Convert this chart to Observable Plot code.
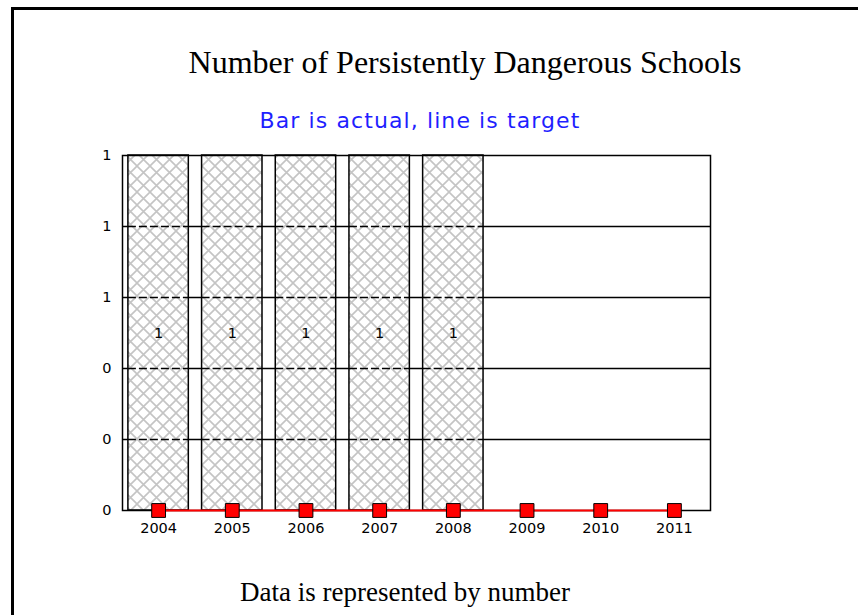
<!DOCTYPE html>
<html><head><meta charset="utf-8">
<script src="https://cdn.jsdelivr.net/npm/d3@7"></script>
<script src="https://cdn.jsdelivr.net/npm/@observablehq/plot@0.6"></script>
<style>
html,body{margin:0;padding:0;background:#fff;}
#page{position:relative;width:858px;height:615px;overflow:hidden;background:#fff;}
#border{position:absolute;left:11px;top:7px;right:-10px;bottom:-10px;border-left:3px solid #000;border-top:3px solid #000;}
.t{position:absolute;white-space:nowrap;transform:translate(-50%,-50%);}
#title{left:465px;top:62px;font:32px "Liberation Serif","Times New Roman",serif;color:#000;}
#subtitle{left:420px;top:120px;font:22px "DejaVu Sans",sans-serif;color:#1f1fff;letter-spacing:1.1px;}
#caption{left:405px;top:592px;font:27px "Liberation Serif","Times New Roman",serif;color:#000;}
#chart{position:absolute;left:20px;top:140px;}
#chart svg text{font-size:14.5px;font-family:"DejaVu Sans",sans-serif;fill:#000;}
</style></head><body>
<div id="page">
<div id="border"></div>
<div class="t" id="title">Number of Persistently Dangerous Schools</div>
<div class="t" id="subtitle">Bar is actual, line is target</div>
<div class="t" id="caption">Data is represented by number</div>
<div id="chart"></div>
</div>
<script>
const years = ["2004", "2005", "2006", "2007", "2008", "2009", "2010", "2011"];
const actualYears = ["2004", "2005", "2006", "2007", "2008"];
const actual = [1, 1, 1, 1, 1];
const target = [0, 0, 0, 0, 0, 0, 0, 0];
const yTicks = [0, 0.2, 0.4, 0.6, 0.8, 1];
const gridLines = [0.2, 0.4, 0.6, 0.8];

const bars = actualYears.map((year, i) => ({year, value: actual[i]}));
const targets = years.map((year, i) => ({year, value: target[i]}));
const dashes = actualYears.flatMap(year => gridLines.map(v => ({year, v})));

const plot = Plot.plot({
  width: 700, height: 415,
  marginLeft: 102, marginRight: 10, marginTop: 15, marginBottom: 45,
  style: {background: "transparent", fontFamily: "'DejaVu Sans', sans-serif", fontSize: "14.5px", color: "#000"},
  x: {type: "band", domain: years, paddingInner: 0.18, paddingOuter: 0.08, round: false, label: null, tickSize: 0, tickPadding: 12},
  y: {domain: [0, 1], ticks: yTicks, tickFormat: d => d3.format(".0f")(d), label: null, tickSize: 0, tickPadding: 11},
  marks: [
    Plot.ruleY(gridLines, {stroke: "#000", strokeWidth: 1.5}),
    Plot.barY(bars, {x: "year", y: "value", fill: "url(#hatch)", stroke: "#000", strokeWidth: 1.5}),
    Plot.tickY(dashes, {x: "year", y: "v", stroke: "#000", strokeWidth: 1.5, strokeDasharray: "8,3"}),
    Plot.text(bars, {x: "year", y: d => d.value / 2, text: d => String(d.value), fontSize: 15}),
    Plot.frame({stroke: "#000", strokeWidth: 1.5}),
    Plot.line(targets, {x: "year", y: "value", stroke: "red", strokeWidth: 2}),
    Plot.dot(targets, {x: "year", y: "value", symbol: "square", r: 7.8, fill: "red", stroke: "#000", strokeWidth: 1})
  ]
});

const defs = d3.select(plot).insert("defs", ":first-child");
const pat = defs.append("pattern").attr("id", "hatch").attr("patternUnits", "userSpaceOnUse")
  .attr("width", 13).attr("height", 13);
pat.append("rect").attr("width", 13).attr("height", 13).attr("fill", "#fff");
pat.append("path").attr("d", "M0,0L13,13M13,0L0,13").attr("stroke", "#c4c4c4").attr("stroke-width", 1.6).attr("fill", "none");

document.getElementById("chart").appendChild(plot);
</script>
</body></html>
